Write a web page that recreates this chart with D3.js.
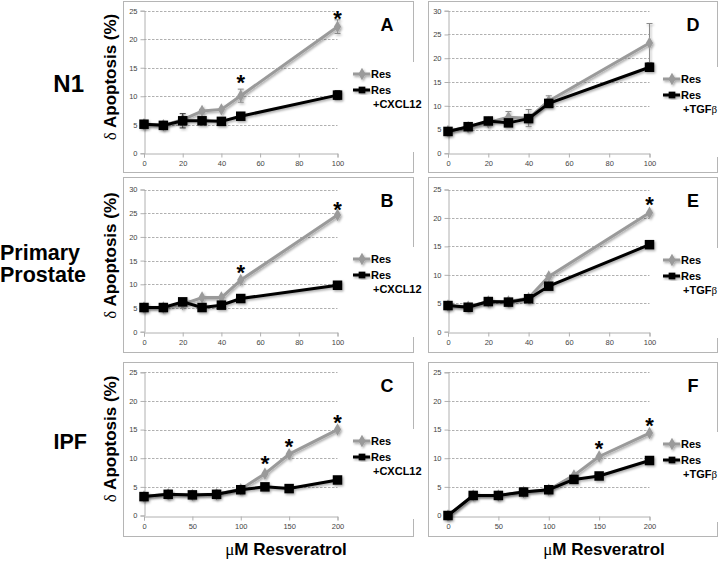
<!DOCTYPE html>
<html><head><meta charset="utf-8">
<script src="https://cdn.jsdelivr.net/npm/d3@7"></script>
<style>body{margin:0;background:#fff} svg{display:block}</style>
</head><body>
<svg id="c" width="719" height="561"></svg>
<script>
// ---------- data ----------
const rowLabels = [["N1"], ["Primary", "Prostate"], ["IPF"]];
const panelLetters = ["A", "B", "C", "D", "E", "F"];
const seriesRes = "Res";
const treatLabels = ["+CXCL12", "+CXCL12", "+CXCL12", "+TGF", "+TGF", "+TGF"];
const yLabelText = "Apoptosis (%)";
const xLabelText = "M Resveratrol";
const doseLow = [0, 10, 20, 30, 40, 50, 100];
const doseHigh = [0, 25, 50, 75, 100, 125, 150, 200];
const xTicksLow = [0, 20, 40, 60, 80, 100];
const xTicksHigh = [0, 50, 100, 150, 200];
const yMaxes = [25, 30, 25, 30, 25, 25];

// A: N1, CXCL12
const resA = [5.1, 4.9, 5.9, 7.4, 7.7, 10.1, 22.2];
const resAErr = [0, 0, 0, 0.3, 0, 1.15, 1.2];
const trtA = [5.1, 4.9, 5.7, 5.7, 5.6, 6.5, 10.2];
const trtAErr = [0, 0, 1.25, 0, 0, 0, 0.8];
const starsA = [[50, 13.2], [100, 24.4]];
// B: Primary Prostate, CXCL12
const resB = [5.1, 5.1, 5.8, 7.2, 7.2, 10.9, 24.6];
const resBErr = [0, 0, 0, 0, 0, 0, 0];
const trtB = [5.1, 5.1, 6.3, 5.1, 5.6, 7.0, 9.8];
const trtBErr = [0, 0, 0, 0, 0, 0, 0];
const starsB = [[50, 13.4], [100, 26.7]];
// C: IPF, CXCL12
const resC = [3.3, 3.7, 3.6, 3.7, 4.6, 7.3, 10.7, 15.0];
const resCErr = [0, 0, 0, 0, 0, 0, 0, 0];
const trtC = [3.3, 3.7, 3.6, 3.7, 4.5, 5.0, 4.7, 6.2];
const trtCErr = [0, 0, 0, 0, 0, 0, 0, 0];
const starsC = [[125, 9.8], [150, 12.9], [200, 17.0]];
// D: N1, TGFb
const resD = [4.7, 5.5, 6.5, 7.6, 7.4, 11.0, 23.2];
const resDErr = [0, 0, 0.5, 1.2, 1.8, 1.1, 4.1];
const trtD = [4.6, 5.6, 6.8, 6.4, 7.3, 10.5, 18.1];
const trtDErr = [0, 0, 0, 0, 0, 0, 0];
const starsD = [];
// E: Primary Prostate, TGFb
const resE = [4.6, 4.4, 5.3, 5.3, 5.9, 9.7, 20.9];
const resEErr = [0, 0, 0, 0, 0, 0, 0];
const trtE = [4.6, 4.3, 5.3, 5.2, 5.8, 8.0, 15.3];
const trtEErr = [0, 0, 0, 0, 0, 0, 0];
const starsE = [[100, 23.2]];
// F: IPF, TGFb
const resF = [0, 3.5, 3.5, 4.1, 4.5, 7.0, 10.3, 14.4];
const resFErr = [0, 0, 0, 0, 0, 0, 0, 0];
const trtF = [0, 3.5, 3.5, 4.1, 4.5, 6.3, 6.9, 9.6];
const trtFErr = [0, 0, 0, 0, 0, 0, 0, 0];
const starsF = [[150, 12.4], [200, 16.5]];

// ---------- layout ----------
const cols = [
  {x0: 144, x1: 337.5, boxL: 123, boxR: 413, legX: 353},
  {x0: 448, x1: 649.5, boxL: 428, boxR: 717, legX: 663}
];
const rows = [
  {yTop: 10.7, yBot: 153.3, boxT: 1, boxB: 172},
  {yTop: 189.5, yBot: 331.7, boxT: 177, boxB: 352},
  {yTop: 372.3, yBot: 515.5, boxT: 362, boxB: 536}
];
const legendY = [74, 259, 441, 79, 260, 444];

const panels = [
  {doses: doseLow, ticks: xTicksLow, res: resA, resErr: resAErr, trt: trtA, trtErr: trtAErr, stars: starsA},
  {doses: doseLow, ticks: xTicksLow, res: resB, resErr: resBErr, trt: trtB, trtErr: trtBErr, stars: starsB},
  {doses: doseHigh, ticks: xTicksHigh, res: resC, resErr: resCErr, trt: trtC, trtErr: trtCErr, stars: starsC},
  {doses: doseLow, ticks: xTicksLow, res: resD, resErr: resDErr, trt: trtD, trtErr: trtDErr, stars: starsD},
  {doses: doseLow, ticks: xTicksLow, res: resE, resErr: resEErr, trt: trtE, trtErr: trtEErr, stars: starsE},
  {doses: doseHigh, ticks: xTicksHigh, res: resF, resErr: resFErr, trt: trtF, trtErr: trtFErr, stars: starsF}
];

const GRAY = "#9a9a9a";
const BLACK = "#000";
const SANS = "'Liberation Sans', Arial, Helvetica, sans-serif";
const SERIF = "'Liberation Serif', 'DejaVu Serif', serif";

const svg = d3.select("#c");
const defs = svg.append("defs");
const f = defs.append("filter").attr("id", "sh").attr("x", "-20%").attr("y", "-20%").attr("width", "140%").attr("height", "140%");
f.append("feDropShadow").attr("dx", 1.2).attr("dy", 1.5).attr("stdDeviation", 1.1).attr("flood-color", "#000").attr("flood-opacity", 0.35);

const diamond = d3.symbol().type(d3.symbolDiamond).size(45);
const square = d3.symbol().type(d3.symbolSquare).size(90);

panels.forEach((p, i) => {
  const col = cols[Math.floor(i / 3)];
  const row = rows[i % 3];
  const g = svg.append("g");

  // box
  g.append("rect").attr("x", col.boxL + 0.5).attr("y", row.boxT + 0.5)
    .attr("width", col.boxR - col.boxL).attr("height", row.boxB - row.boxT)
    .attr("fill", "none").attr("stroke", "#b5b5b5").attr("stroke-width", 1);

  const x = d3.scaleLinear().domain([0, p.ticks[p.ticks.length - 1]]).range([col.x0, col.x1]);
  const y = d3.scaleLinear().domain([0, yMaxes[i]]).range([row.yBot, row.yTop]);
  const yTicks = d3.range(0, yMaxes[i] + 0.1, 5);

  // gridlines
  g.append("g").selectAll("line").data(yTicks.filter(t => t > 0)).join("line")
    .attr("x1", col.x0).attr("x2", col.x1)
    .attr("y1", d => Math.round(y(d)) + 0.5).attr("y2", d => Math.round(y(d)) + 0.5)
    .attr("stroke", "#9c9c9c").attr("stroke-width", 0.8).attr("stroke-dasharray", "2.5,1.5");

  // axes
  const ya = g.append("g").attr("transform", `translate(${Math.round(col.x0) + 0.5},0)`)
    .call(d3.axisLeft(y).tickValues(yTicks).tickSize(4).tickPadding(3).tickFormat(d3.format("d")));
  const xa = g.append("g").attr("transform", `translate(0,${Math.round(row.yBot) + 0.5})`)
    .call(d3.axisBottom(x).tickValues(p.ticks).tickSize(4).tickPadding(3).tickFormat(d3.format("d")));
  [ya, xa].forEach(a => {
    a.select(".domain").attr("stroke", "#b0b0b0");
    a.selectAll(".tick line").attr("stroke", "#b0b0b0");
    a.selectAll("text").attr("font-family", SANS).attr("font-size", 7.5).attr("fill", "#444");
  });

  // series
  const line = d3.line().x(d => x(d[0])).y(d => y(d[1]));
  const drawSeries = (vals, errs, color, sym) => {
    const pts = p.doses.map((d, k) => [d, vals[k], errs[k]]);
    const sg = g.append("g").attr("filter", "url(#sh)");
    const eb = sg.append("g").attr("stroke", color === BLACK ? "#333" : "#8a8a8a").attr("stroke-width", 1);
    pts.filter(d => d[2] > 0).forEach(d => {
      const cx = x(d[0]);
      eb.append("line").attr("x1", cx).attr("x2", cx).attr("y1", y(d[1] - d[2])).attr("y2", y(d[1] + d[2]));
      eb.append("line").attr("x1", cx - 3).attr("x2", cx + 3).attr("y1", y(d[1] + d[2])).attr("y2", y(d[1] + d[2]));
      eb.append("line").attr("x1", cx - 3).attr("x2", cx + 3).attr("y1", y(d[1] - d[2])).attr("y2", y(d[1] - d[2]));
    });
    sg.append("path").attr("d", line(pts)).attr("fill", "none").attr("stroke", color)
      .attr("stroke-width", 3).attr("stroke-linejoin", "round");
    sg.selectAll(".m").data(pts).join("path")
      .attr("transform", d => `translate(${x(d[0])},${y(d[1])})`)
      .attr("d", sym).attr("fill", color);
  };
  drawSeries(p.res, p.resErr, GRAY, diamond);
  drawSeries(p.trt, p.trtErr, BLACK, square);

  // significance stars
  g.selectAll(".star").data(p.stars).join("text")
    .attr("x", d => x(d[0])).attr("y", d => y(d[1]) + 12)
    .attr("text-anchor", "middle").attr("font-family", SANS).attr("font-weight", "bold")
    .attr("font-size", 22).attr("fill", "#000").text("*");

  // panel letter
  g.append("text").attr("x", col.boxL + (i < 3 ? 264 : 265)).attr("y", row.boxT + 30)
    .attr("text-anchor", "middle").attr("font-family", SANS).attr("font-weight", "bold")
    .attr("font-size", 18).text(panelLetters[i]);

  // legend
  const ly = legendY[i];
  const lg = g.append("g");
  lg.append("rect").attr("x", col.legX - 3).attr("y", ly - 12).attr("width", col.boxR - col.legX + 14).attr("height", 90)
    .attr("fill", "#fff");
  const lx = col.legX;
  const l1 = lg.append("g").attr("filter", "url(#sh)");
  l1.append("line").attr("x1", lx).attr("x2", lx + 17).attr("y1", ly).attr("y2", ly).attr("stroke", GRAY).attr("stroke-width", 3);
  l1.append("path").attr("transform", `translate(${lx + 9},${ly})`).attr("d", diamond).attr("fill", GRAY);
  const l2 = lg.append("g").attr("filter", "url(#sh)");
  l2.append("line").attr("x1", lx).attr("x2", lx + 17).attr("y1", ly + 16).attr("y2", ly + 16).attr("stroke", BLACK).attr("stroke-width", 3);
  l2.append("path").attr("transform", `translate(${lx + 9},${ly + 16})`).attr("d", d3.symbol().type(d3.symbolSquare).size(45)).attr("fill", BLACK);
  const lt = lg.append("g").attr("font-family", SANS).attr("font-weight", "bold").attr("font-size", 11).attr("fill", "#000");
  lt.append("text").attr("x", lx + 18).attr("y", ly + 4).text(seriesRes);
  lt.append("text").attr("x", lx + 18).attr("y", ly + 20).text(seriesRes);
  const t3 = lt.append("text").attr("x", lx + 20).attr("y", ly + 34).text(treatLabels[i]);
  if (i >= 3) t3.append("tspan").attr("font-family", SERIF).attr("font-weight", "normal").text("β");

  // y axis label (left column)
  if (i < 3) {
    const cy = (row.yTop + row.yBot) / 2 - 5;
    const t = svg.append("text").attr("transform", `translate(116,${cy}) rotate(-90)`)
      .attr("text-anchor", "middle").attr("font-family", SANS).attr("font-weight", "bold").attr("font-size", 17);
    t.append("tspan").attr("font-family", SERIF).attr("font-weight", "normal").text("δ ");
    t.append("tspan").text(yLabelText);
  }
});

// row labels
const rowLabelSpec = [
  [{x: 84, y: 92, a: "end", fs: 24}],
  [{x: 0, y: 260, a: "start", fs: 21.5}, {x: 0, y: 282, a: "start", fs: 21.5}],
  [{x: 87, y: 449, a: "end", fs: 21.5}]
];
rowLabels.forEach((lines, r) => {
  lines.forEach((s, k) => {
    const sp = rowLabelSpec[r][k];
    svg.append("text").attr("x", sp.x).attr("y", sp.y).attr("text-anchor", sp.a)
      .attr("font-family", SANS).attr("font-weight", "bold").attr("font-size", sp.fs).text(s);
  });
});

// x axis labels
[286, 604].forEach(cx => {
  const t = svg.append("text").attr("x", cx).attr("y", 555).attr("text-anchor", "middle")
    .attr("font-family", SANS).attr("font-weight", "bold").attr("font-size", 17);
  t.append("tspan").attr("font-family", SERIF).attr("font-weight", "normal").text("μ");
  t.append("tspan").text(xLabelText);
});
</script>
</body></html>
